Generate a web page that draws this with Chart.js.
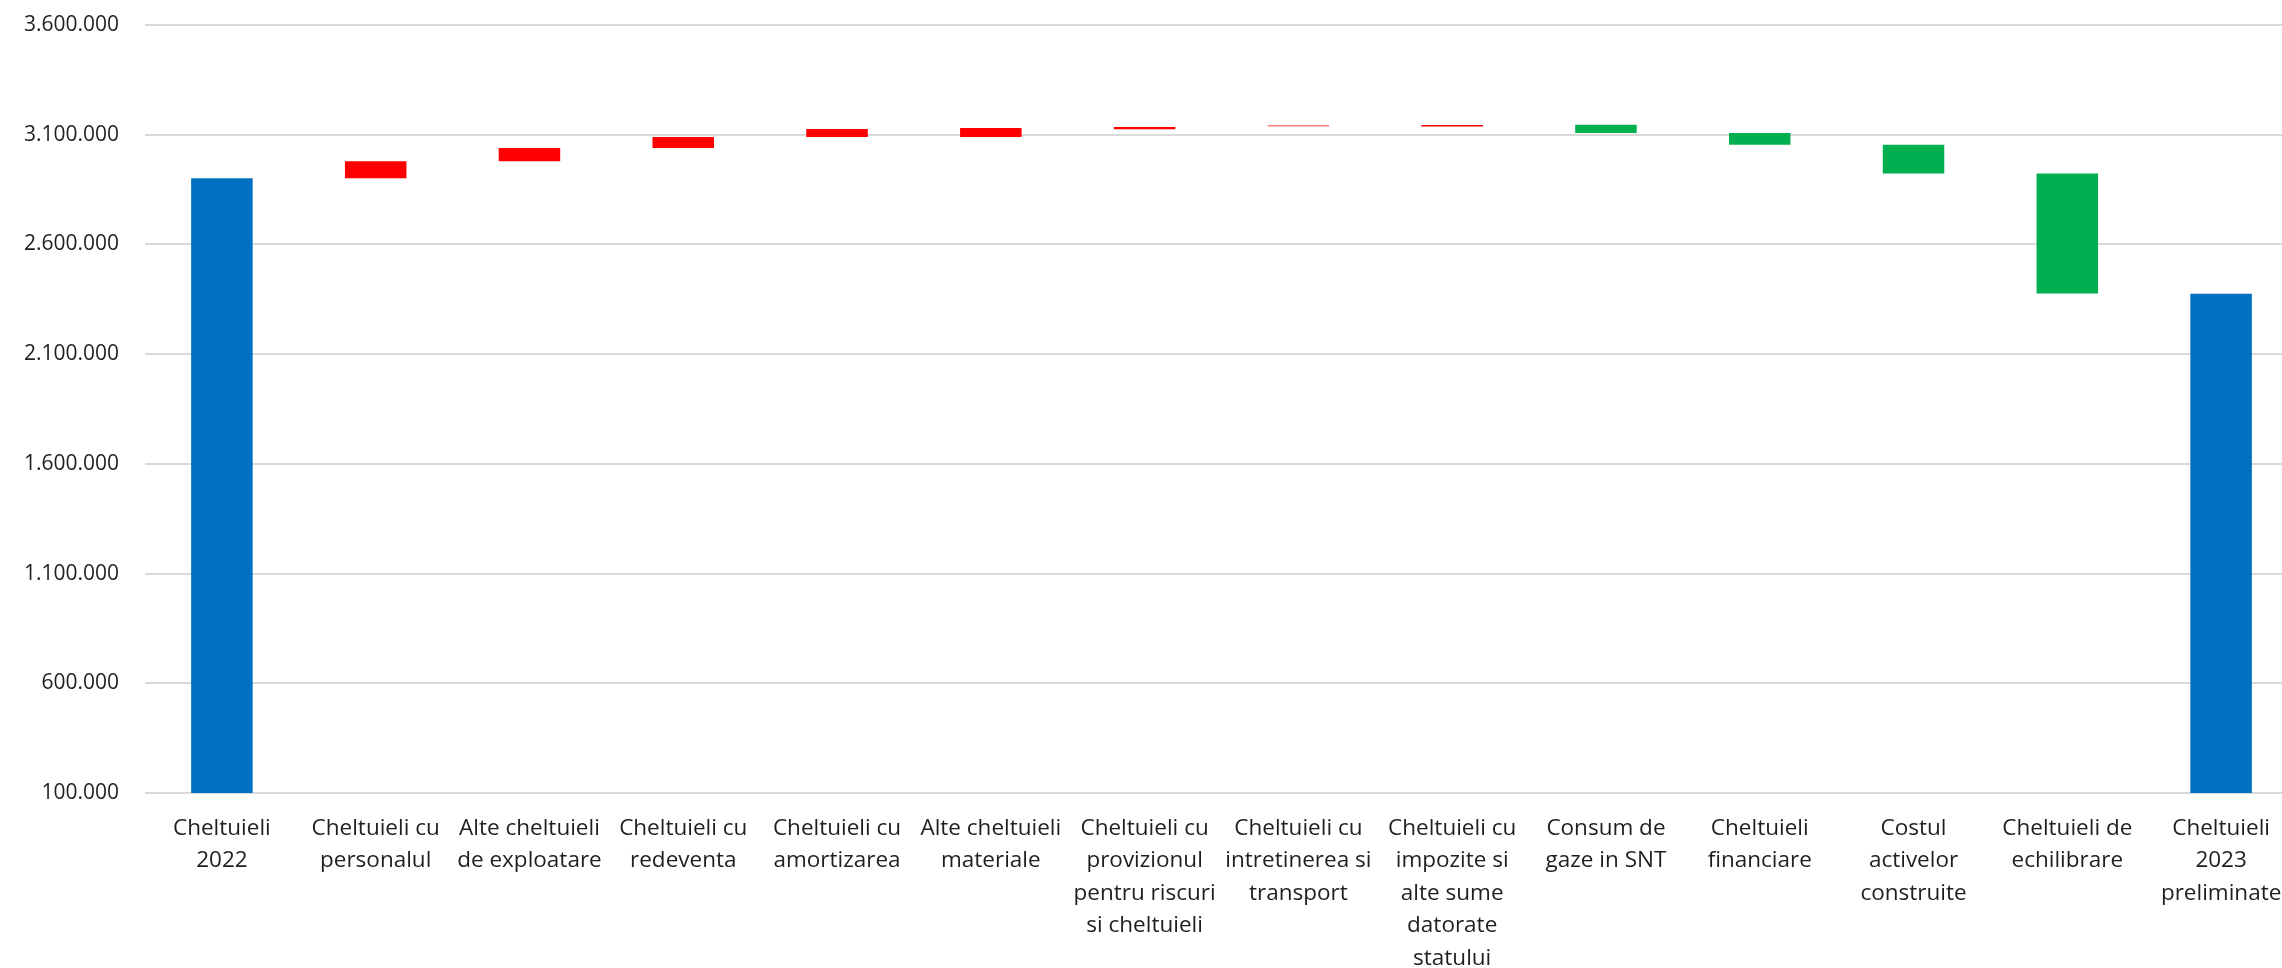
<!DOCTYPE html>
<html>
<head>
<meta charset="utf-8">
<script src="https://cdn.jsdelivr.net/npm/chart.js@4/dist/chart.umd.min.js"></script>
<style>
    html, body { margin: 0; padding: 0; background: #ffffff; overflow: hidden; }
    #wrap { width: 2300px; height: 968px; }
</style>
</head>
<body>
<div id="wrap"><canvas id="waterfall" width="2300" height="968"></canvas></div>
<script>
const categories = [
    ["Cheltuieli", "2022"],
    ["Cheltuieli cu", "personalul"],
    ["Alte cheltuieli", "de exploatare"],
    ["Cheltuieli cu", "redeventa"],
    ["Cheltuieli cu", "amortizarea"],
    ["Alte cheltuieli", "materiale"],
    ["Cheltuieli cu", "provizionul", "pentru riscuri", "si cheltuieli"],
    ["Cheltuieli cu", "intretinerea si", "transport"],
    ["Cheltuieli cu", "impozite si", "alte sume", "datorate", "statului"],
    ["Consum de", "gaze in SNT"],
    ["Cheltuieli", "financiare"],
    ["Costul", "activelor", "construite"],
    ["Cheltuieli de", "echilibrare"],
    ["Cheltuieli", "2023", "preliminate"]
];

// bottom and top of each floating bar
const barStart = [0, 2902000, 2979000, 3040000, 3090000, 3090000, 3125000, 3139000, 3138000, 3108000, 3054000, 2923000, 2376000, 0];
const barEnd = [2902000, 2979000, 3040000, 3090000, 3126000, 3131000, 3135000, 3142000, 3144000, 3145000, 3108000, 3054000, 2923000, 2375000];
const barKind = ["total", "up", "up", "up", "up", "up", "up", "up", "up", "down", "down", "down", "down", "total"];

const yMin = 100000;
const yMax = 3600000;
const yStep = 500000;

const kindColor = { total: "#0070C0", up: "#FF0000", down: "#00B050" };

function fmt(v) {
    return String(v).replace(/\B(?=(\d{3})+(?!\d))/g, ".");
}

const ctx = document.getElementById("waterfall");

new Chart(ctx, {
    type: "bar",
    data: {
        labels: categories,
        datasets: [{
            data: barStart.map((s, i) => [s, barEnd[i]]),
            backgroundColor: barKind.map(k => kindColor[k]),
            borderWidth: 0,
            barPercentage: 0.4,
            categoryPercentage: 1.0
        }]
    },
    options: {
        responsive: false,
        animation: false,
        devicePixelRatio: 1,
        layout: { padding: { top: 25, left: 0, right: 2, bottom: 0 } },
        plugins: {
            legend: { display: false },
            tooltip: { enabled: false }
        },
        scales: {
            x: {
                grid: { display: false },
                border: { display: false },
                ticks: {
                    color: "#1f1f1f",
                    font: { family: "Open Sans", size: 22.5, lineHeight: "32.5px" },
                    padding: 11,
                    maxRotation: 0,
                    autoSkip: false
                },
                afterFit: scale => { scale.height = 175; }
            },
            y: {
                min: yMin,
                max: yMax,
                border: { display: false },
                grid: { color: "#D9D9D9", lineWidth: 2, drawTicks: false },
                ticks: {
                    stepSize: yStep,
                    color: "#1f1f1f",
                    font: { family: "Open Sans", size: 21 },
                    padding: 26,
                    callback: v => fmt(v)
                },
                afterFit: scale => {
                    scale.width = 145;
                    scale.paddingTop = 0;
                    scale.paddingBottom = 0;
                }
            }
        }
    }
});
</script>
</body>
</html>
